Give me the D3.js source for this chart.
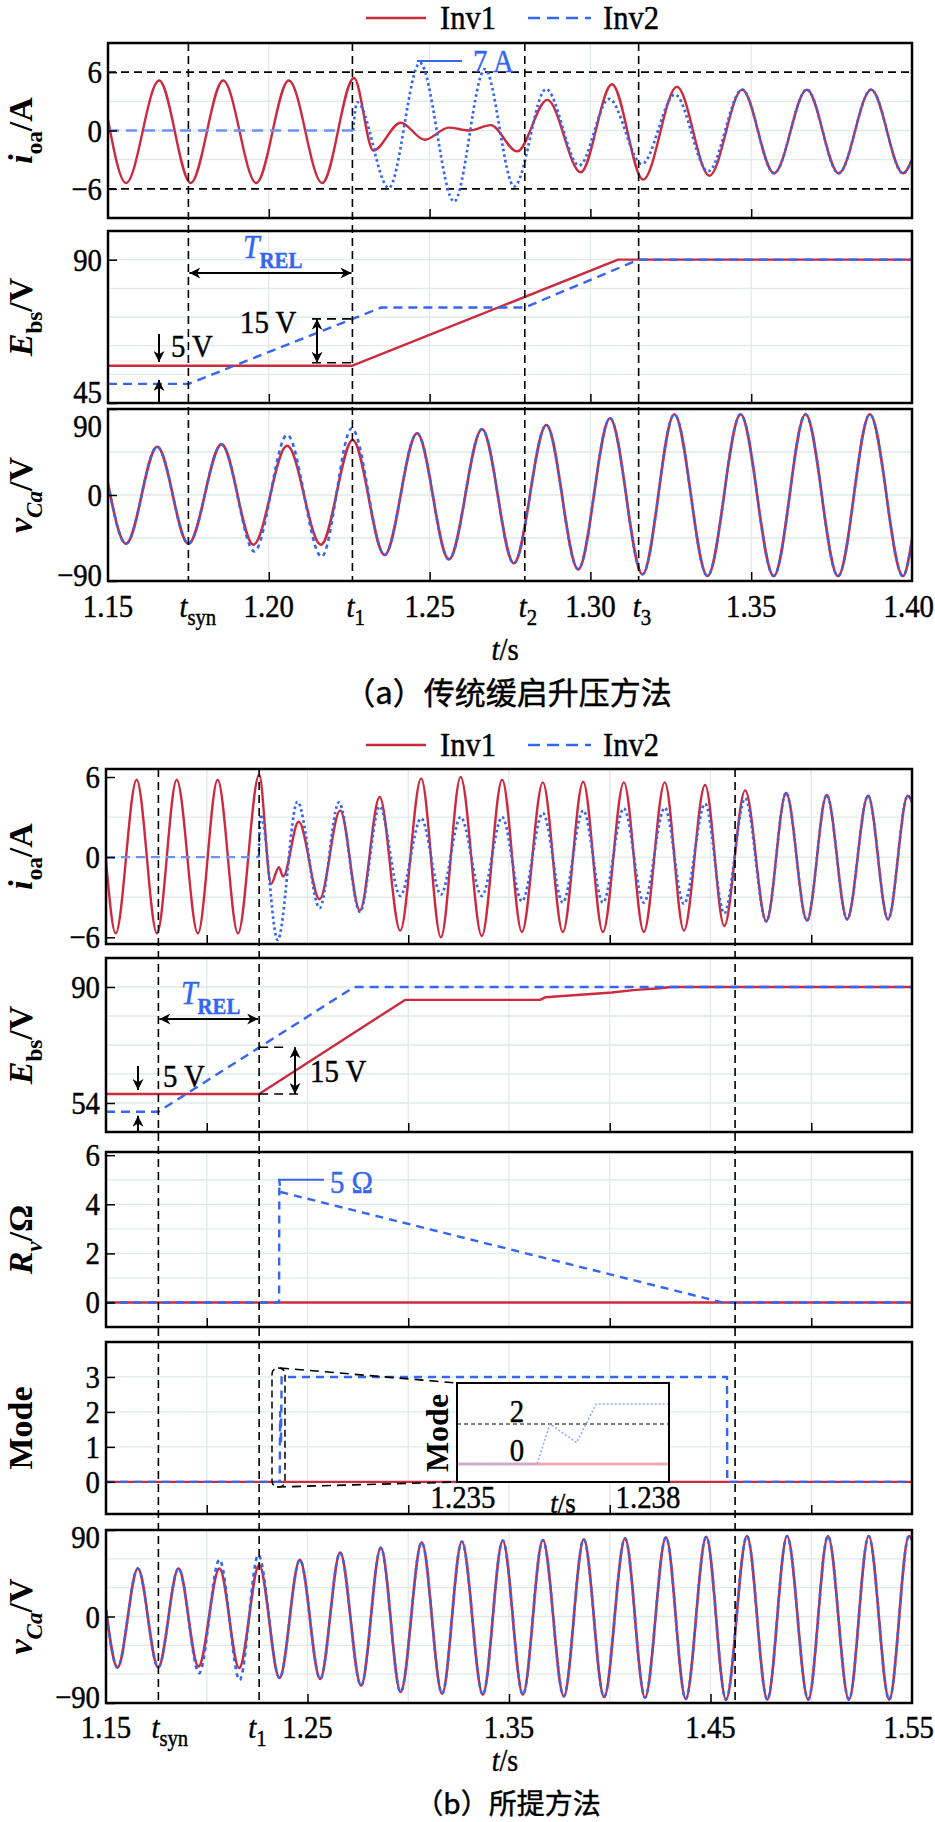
<!DOCTYPE html>
<html>
<head>
<meta charset="utf-8">
<script src="https://cdn.jsdelivr.net/npm/d3@7"></script>
<style>
  body { margin: 0; background: #fff; }
  svg { display: block; }
</style>
</head>
<body>
<svg id="chart" width="935" height="1822"></svg>
<script>
// ---------- data: [t (s), value] at peaks / troughs / corners ----------

// (a) conventional soft start
const ioaA_inv1 = [[1.150,1.1],[1.1556,-5.4],[1.1659,5.15],[1.1757,-5.4],[1.1858,5.15],[1.1961,-5.4],[1.2062,5.15],
  [1.2166,-5.4],[1.2265,5.4],[1.2325,-2.05],[1.2410,0.8],[1.2485,-0.95],[1.2560,0.3],[1.2623,0.0],[1.2690,0.55],
  [1.2772,-2.15],[1.2866,3.15],[1.2970,-4.3],[1.3067,4.75],[1.3164,-5.05],[1.3269,4.5],[1.3370,-4.65],[1.3472,4.2],
  [1.3571,-4.4],[1.3673,4.2],[1.3772,-4.4],[1.3873,4.2],[1.3972,-4.4],[1.400,-3.0]];
const ioaA_inv2 = [[1.150,0],[1.2262,0],[1.2275,2.9],[1.2373,-5.9],[1.2470,6.95],[1.2576,-7.3],[1.2672,6.3],
  [1.2763,-5.75],[1.2862,4.25],[1.2965,-3.6],[1.3058,3.25],[1.3160,-3.45],[1.3263,3.7],[1.3366,-4.2],[1.3472,4.2],
  [1.3571,-4.4],[1.3673,4.2],[1.3772,-4.4],[1.3873,4.2],[1.3972,-4.4],[1.400,-3.0]];
const ebsA_inv1 = [[1.150,56.7],[1.226,56.7],[1.3086,90],[1.400,90]];
const ebsA_inv2 = [[1.150,51],[1.175,51],[1.235,75],[1.2796,75],[1.315,90],[1.400,90]];
const vcaA_inv1 = [[1.150,12],[1.1556,-51],[1.1653,50.5],[1.1750,-51],[1.1853,53],[1.1952,-52],[1.2057,51.6],
  [1.2162,-52],[1.2261,57.6],[1.2360,-62.8],[1.2461,64.6],[1.2560,-67.3],[1.2663,68.8],[1.2762,-71.5],[1.2863,73.3],
  [1.2962,-77.8],[1.3061,80.3],[1.3162,-83],[1.3261,84.5],[1.3364,-84.8],[1.3467,84.5],[1.3570,-84.8],[1.3669,84.5],
  [1.3770,-84.8],[1.3869,84.5],[1.3972,-84.8],[1.400,-47]];
const vcaA_inv2 = [[1.150,12],[1.1556,-51],[1.1653,50.5],[1.1750,-51],[1.1853,53],[1.1955,-59],[1.2057,62.8],
  [1.2164,-64.6],[1.2258,69.8],[1.2360,-62.8],[1.2461,64.6],[1.2560,-67.3],[1.2663,68.8],[1.2762,-71.5],[1.2863,73.3],
  [1.2962,-77.8],[1.3061,80.3],[1.3162,-83],[1.3261,84.5],[1.3364,-84.8],[1.3467,84.5],[1.3570,-84.8],[1.3669,84.5],
  [1.3770,-84.8],[1.3869,84.5],[1.3972,-84.8],[1.400,-47]];
const eventsA = [1.175, 1.226, 1.2796, 1.315];
const eventNamesA = ["syn", "1", "2", "3"];
const xTicksA = [1.20, 1.25, 1.30, 1.35];
const xLabelValuesA = [1.15, 1.20, 1.25, 1.30, 1.35, 1.40];
const xLabelsA = ["1.15", "1.20", "1.25", "1.30", "1.35", "1.40"];

// (b) proposed method
const ioaB_inv1 = [[1.150,-0.25],[1.1548,-5.7],[1.1652,5.8],[1.1753,-5.7],[1.1851,5.8],[1.1956,-5.7],[1.2054,5.8],
  [1.2155,-5.7],[1.2260,6.17],[1.2319,-2.0],[1.2358,-0.75],[1.2379,-1.45],[1.2456,2.65],[1.2560,-3.15],[1.2662,3.5],
  [1.2760,-4.0],[1.2858,4.5],[1.2960,-5.5],[1.3064,5.9],[1.3162,-6.0],[1.3260,6.0],[1.3365,-5.9],[1.3466,5.8],
  [1.3564,-5.6],[1.3668,5.6],[1.3767,-5.6],[1.3868,5.65],[1.3966,-5.6],[1.4070,5.6],[1.4169,-5.6],[1.4273,5.6],
  [1.4368,-5.5],[1.4473,5.4],[1.4568,-5.15],[1.4672,5.0],[1.4777,-4.8],[1.4875,4.8],[1.4979,-4.75],[1.5077,4.65],
  [1.5178,-4.65],[1.5282,4.6],[1.5381,-4.65],[1.5479,4.6],[1.550,4.15]];
const ioaB_inv2 = [[1.150,0],[1.2258,0],[1.2268,3.2],[1.2352,-6.2],[1.2450,4.15],[1.2560,-3.8],[1.2656,4.1],
  [1.2760,-4.1],[1.2858,3.8],[1.2960,-2.9],[1.3064,2.9],[1.3162,-2.8],[1.3260,3.0],[1.3365,-2.9],[1.3466,3.0],
  [1.3564,-3.3],[1.3668,3.3],[1.3767,-3.4],[1.3868,3.5],[1.3966,-3.4],[1.4070,3.65],[1.4169,-3.4],[1.4273,3.7],
  [1.4368,-3.5],[1.4473,4.0],[1.4568,-4.2],[1.4672,4.4],[1.4777,-4.8],[1.4875,4.8],[1.4979,-4.75],[1.5077,4.65],
  [1.5178,-4.65],[1.5282,4.6],[1.5381,-4.65],[1.5479,4.6],[1.550,4.15]];
const ebsB_inv1 = [[1.150,56.8],[1.226,56.8],[1.2984,86],[1.3654,86],[1.3680,86.8],[1.4011,88.3],[1.4130,89.1],
  [1.4250,89.6],[1.4303,90],[1.550,90]];
const ebsB_inv2 = [[1.150,51.3],[1.176,51.3],[1.2731,90],[1.550,90]];
const rvB_inv1 = [[1.150,0],[1.550,0]];
const rvB_inv2 = [[1.150,0],[1.2359,0],[1.2360,5],[1.2366,4.5],[1.4560,0],[1.550,0]];
const modeB_inv1 = [[1.150,0],[1.550,0]];
const modeB_inv2 = [[1.150,0],[1.23620,0],[1.23641,2],[1.23684,1.07],[1.23716,3],[1.4582,3],[1.4583,0],[1.550,0]];
const vcaB_inv1 = [[1.150,7],[1.1557,-53],[1.1658,50],[1.1759,-53],[1.1860,50],[1.1959,-52],[1.2063,50],
  [1.2161,-53.6],[1.2260,53.6],[1.2361,-64],[1.2462,59],[1.2563,-65],[1.2662,66.5],[1.2766,-72],[1.2864,71.6],
  [1.2962,-78.6],[1.3067,77.2],[1.3168,-80.3],[1.3266,78],[1.3370,-81.3],[1.3469,79],[1.3569,-81.3],[1.3668,79.6],
  [1.3772,-83],[1.3871,80.3],[1.3972,-83.8],[1.4076,81.3],[1.4175,-84.5],[1.4279,82.4],[1.4377,-85.8],[1.4479,83],
  [1.4577,-86.5],[1.4681,83.8],[1.4782,-86.5],[1.4880,83.8],[1.4985,-86.5],[1.5083,83.8],[1.5187,-86.5],[1.5285,83.8],
  [1.5387,-86.5],[1.5485,83.8],[1.550,80]];
const vcaB_inv2 = [[1.150,7],[1.1557,-53],[1.1658,50],[1.1759,-53],[1.1860,50],[1.1962,-59],[1.2063,59],
  [1.2163,-66],[1.2256,64],[1.2361,-64],[1.2462,59],[1.2563,-65],[1.2662,66.5],[1.2766,-72],[1.2864,71.6],
  [1.2962,-78.6],[1.3067,77.2],[1.3168,-80.3],[1.3266,78],[1.3370,-81.3],[1.3469,79],[1.3569,-81.3],[1.3668,79.6],
  [1.3772,-83],[1.3871,80.3],[1.3972,-83.8],[1.4076,81.3],[1.4175,-84.5],[1.4279,82.4],[1.4377,-85.8],[1.4479,83],
  [1.4577,-86.5],[1.4681,83.8],[1.4782,-86.5],[1.4880,83.8],[1.4985,-86.5],[1.5083,83.8],[1.5187,-86.5],[1.5285,83.8],
  [1.5387,-86.5],[1.5485,83.8],[1.550,80]];
const eventsB = [1.176, 1.226, 1.4622];
const xTicksB = [1.20, 1.30, 1.40, 1.50];
const xTicksB5 = [1.25, 1.35, 1.45];
const xLabelValuesB = [1.15, 1.25, 1.35, 1.45, 1.55];
const xLabelsB = ["1.15", "1.25", "1.35", "1.45", "1.55"];
const insetTicks = [1.235, 1.238];

// ---------- drawing ----------
const SERIF = "Liberation Serif";
const CJK = "Noto Sans CJK SC";
const RED = "#cc2a3e", BLUE = "#3466f2";
const svg = d3.select("#chart");

const defs = svg.append("defs");
defs.append("marker").attr("id", "arr")
    .attr("viewBox", "0 0 10 10").attr("refX", 10).attr("refY", 5)
    .attr("markerWidth", 13).attr("markerHeight", 11).attr("markerUnits", "userSpaceOnUse")
    .attr("orient", "auto-start-reverse")
  .append("path").attr("d", "M0,0 L10,5 L0,10 L3,5 Z").attr("fill", "#000");

let clipId = 0;

// rich text: parts are strings or {t, i, sub}; sx squeezes glyphs to the narrow look of the figure
function rich(parent, x, y, parts, o) {
  o = o || {};
  const size = o.size || 30;
  const sx = o.sx || 0.9;
  const color = o.color || "#000";
  const t = parent.append("text")
      .attr("transform", "translate(" + x + "," + y + ")" + (o.rotate ? " rotate(" + o.rotate + ")" : "") +
            " scale(" + sx + ",1)")
      .attr("text-anchor", o.anchor || "start")
      .attr("font-family", o.family || SERIF)
      .attr("font-size", size)
      .attr("font-weight", o.bold ? "bold" : null)
      .attr("fill", color)
      .attr("stroke", color).attr("stroke-width", o.bold ? 0 : 0.45);
  let shift = 0;
  parts.forEach(function(p) {
    if (typeof p === "string") p = {t: p};
    const s = t.append("tspan").text(p.t);
    const target = p.sub ? size * (p.drop || 0.28) : 0;
    if (p.sub) s.attr("font-size", size * (p.scale || 0.68));
    if (p.i) s.attr("font-style", "italic");
    if (p.b) s.attr("font-weight", "bold");
    if (target !== shift) { s.attr("dy", target - shift); shift = target; }
  });
  return t;
}

function panel(cfg) {
  const x = cfg.x;
  const [x0, x1] = x.range();
  const y = d3.scaleLinear().domain(cfg.domain).range([cfg.bottom, cfg.top]);
  const g = svg.append("g");
  const id = "clip" + (clipId++);
  defs.append("clipPath").attr("id", id).append("rect")
      .attr("x", x0).attr("y", cfg.top).attr("width", x1 - x0).attr("height", cfg.bottom - cfg.top);

  // faint grid
  g.append("g").selectAll("line").data(cfg.grid).join("line")
      .attr("x1", x0).attr("x2", x1).attr("y1", d => y(d)).attr("y2", d => y(d))
      .attr("stroke", "#e2e9e9").attr("stroke-width", 1.3);
  g.append("g").selectAll("line").data(cfg.xGrid).join("line")
      .attr("x1", d => x(d)).attr("x2", d => x(d)).attr("y1", cfg.top).attr("y2", cfg.bottom)
      .attr("stroke", "#e2e9e9").attr("stroke-width", 1.3);

  const plot = g.append("g").attr("clip-path", "url(#" + id + ")");

  // inward ticks
  const ax = g.append("g").attr("transform", "translate(" + x0 + ",0)")
      .call(d3.axisLeft(y).tickValues(cfg.ticks).tickSize(-9).tickFormat(""));
  ax.select(".domain").remove();
  ax.selectAll("line").attr("stroke", "#000").attr("stroke-width", 1.5);
  cfg.ticks.forEach((v, i) => rich(g, x0 - 6, y(v) + 11 + (cfg.labelDy ? cfg.labelDy[i] : 0),
    [cfg.labels[i]], {size: 32, anchor: "end"}));

  const bx = g.append("g").attr("transform", "translate(0," + cfg.bottom + ")")
      .call(d3.axisBottom(x).tickValues(cfg.xTicks).tickSize(-9).tickFormat(""));
  bx.select(".domain").remove();
  bx.selectAll("line").attr("stroke", "#000").attr("stroke-width", 1.5);

  g.append("rect").attr("x", x0).attr("y", cfg.top)
      .attr("width", x1 - x0).attr("height", cfg.bottom - cfg.top)
      .attr("fill", "none").attr("stroke", "#000").attr("stroke-width", 2.5);

  rich(g, 32, (cfg.top + cfg.bottom) / 2, cfg.title,
       {size: 34, bold: true, anchor: "middle", rotate: -90, sx: 1});

  return {g, y, plot};
}

function curve(p, x, data, color, dash, width, smooth) {
  const line = d3.line().x(d => x(d[0])).y(d => p.y(d[1]))
      .curve(smooth ? d3.curveMonotoneX : d3.curveLinear);
  p.plot.append("path").datum(data).attr("d", line)
      .attr("fill", "none").attr("stroke", color).attr("stroke-width", width || 2.4)
      .attr("stroke-dasharray", dash || null).attr("stroke-linejoin", "round");
}

function events(x, list, top, bottom) {
  svg.append("g").selectAll("line").data(list).join("line")
      .attr("x1", d => x(d)).attr("x2", d => x(d)).attr("y1", top).attr("y2", bottom)
      .attr("stroke", "#000").attr("stroke-width", 1.6).attr("stroke-dasharray", "8,5");
}

function legend(y) {
  const g = svg.append("g");
  g.append("line").attr("x1", 366).attr("x2", 426).attr("y1", y).attr("y2", y)
      .attr("stroke", RED).attr("stroke-width", 2.5);
  rich(g, 440, y + 11, ["Inv1"], {size: 34});
  g.append("line").attr("x1", 528).attr("x2", 591).attr("y1", y).attr("y2", y)
      .attr("stroke", BLUE).attr("stroke-width", 2.5).attr("stroke-dasharray", "12,7");
  rich(g, 603, y + 11, ["Inv2"], {size: 34});
}

function arrow(g, x1, y1, x2, y2, both) {
  g.append("line").attr("x1", x1).attr("y1", y1).attr("x2", x2).attr("y2", y2)
      .attr("stroke", "#000").attr("stroke-width", 2)
      .attr("marker-end", "url(#arr)").attr("marker-start", both ? "url(#arr)" : null);
}

function dashSeg(g, x1, y1, x2, y2) {
  g.append("line").attr("x1", x1).attr("y1", y1).attr("x2", x2).attr("y2", y2)
      .attr("stroke", "#000").attr("stroke-width", 1.6).attr("stroke-dasharray", "9,6");
}

const iTitle = [{t: "i", i: true}, {t: "oa", sub: true}, "/A"];
const eTitle = [{t: "E", i: true}, {t: "bs", sub: true}, "/V"];
const vTitle = [{t: "v", i: true}, {t: "Ca", sub: true, i: true}, "/V"];
const tRel = [{t: "T", i: true}, {t: "REL", sub: true, scale: 0.7, drop: 0.3, b: true}];

// ===== (a) =====
const xA = d3.scaleLinear().domain([1.15, 1.40]).range([108, 912]);
legend(18);
const xGridA = [1.20, 1.25, 1.30, 1.35];

const a1 = panel({x: xA, top: 43, bottom: 218, domain: [-9, 9], grid: [-3, 0, 3], xGrid: xGridA,
  ticks: [-6, 0, 6], labels: ["\u22126", "0", "6"], xTicks: xTicksA, title: iTitle});
const a2 = panel({x: xA, top: 231, bottom: 403, domain: [45, 99], grid: [54, 63, 72, 81, 90], xGrid: xGridA,
  ticks: [45, 90], labels: ["45", "90"], labelDy: [-11, 0], xTicks: xTicksA, title: eTitle});
const a3 = panel({x: xA, top: 409, bottom: 581, domain: [-90, 90], grid: [-45, 0, 45], xGrid: xGridA,
  ticks: [-90, 0, 90], labels: ["\u221290", "0", "90"], labelDy: [-6, 0, 17], xTicks: xTicksA, title: vTitle});

events(xA, eventsA, 43, 581);

// ±6 A reference lines
a1.plot.append("g").selectAll("line").data([6, -6]).join("line")
    .attr("x1", 108).attr("x2", 912).attr("y1", d => a1.y(d)).attr("y2", d => a1.y(d))
    .attr("stroke", "#000").attr("stroke-width", 1.6).attr("stroke-dasharray", "8,5");

curve(a1, xA, ioaA_inv1, RED, null, 2.4, true);
curve(a1, xA, ioaA_inv2.filter(d => d[0] <= 1.2262), "#6f93f5", "11,7", 2.4, false);
curve(a1, xA, ioaA_inv2.filter(d => d[0] >= 1.2262), BLUE, "2.6,3", 2.7, true);

curve(a2, xA, ebsA_inv1, RED, null, 2.4, false);
curve(a2, xA, ebsA_inv2, BLUE, "9,6", 2.4, false);

curve(a3, xA, vcaA_inv1, RED, null, 2.6, true);
curve(a3, xA, vcaA_inv2, BLUE, "4,4", 2.6, true);

// annotations (a)
a1.g.append("line").attr("x1", 417).attr("x2", 462).attr("y1", 61).attr("y2", 61)
    .attr("stroke", BLUE).attr("stroke-width", 2);
rich(a1.g, 473, 72, ["7 A"], {size: 32, color: BLUE});

rich(a2.g, 243, 258, tRel, {size: 33, color: BLUE});
arrow(a2.g, xA(1.175) + 1, 273, xA(1.226) - 1, 273, true);
arrow(a2.g, 159, 334, 159, 362);
arrow(a2.g, 159, 403, 159, 380);
rich(a2.g, 171, 357, ["5 V"], {size: 32});
dashSeg(a2.g, 312, a2.y(71.4), xA(1.226), a2.y(71.4));
dashSeg(a2.g, 312, a2.y(56.7) - 3, xA(1.226), a2.y(56.7) - 3);
arrow(a2.g, 317, a2.y(71.4), 317, a2.y(56.7) - 3, true);
rich(a2.g, 240, 333, ["15 V"], {size: 32});

// x labels (a)
const xlabA = svg.append("g");
xLabelValuesA.forEach((v, i) => rich(xlabA, i === xLabelValuesA.length - 1 ? 934 : xA(v), 617, [xLabelsA[i]],
  {size: 32, anchor: i === xLabelValuesA.length - 1 ? "end" : "middle"}));
eventsA.forEach((v, i) => rich(xlabA, xA(v) - (i === 0 ? 9 : 6), 617,
  [{t: "t", i: true}, {t: eventNamesA[i], sub: true, scale: 0.72, drop: 0.25}], {size: 32}));
rich(xlabA, 505, 660, [{t: "t", i: true}, "/s"], {size: 32, anchor: "middle"});
rich(xlabA, 508, 704, ["（a）传统缓启升压方法"], {size: 31, anchor: "middle", family: CJK, sx: 1});

// ===== (b) =====
const xB = d3.scaleLinear().domain([1.15, 1.55]).range([106, 912]);
legend(745);
const xGridB = [1.20, 1.25, 1.30, 1.35, 1.40, 1.45, 1.50];

const b1 = panel({x: xB, top: 769, bottom: 944, domain: [-6.5, 6.6], grid: [-3, 0, 3], xGrid: xGridB,
  ticks: [-6, 0, 6], labels: ["\u22126", "0", "6"], xTicks: xTicksB, title: iTitle});
const b2 = panel({x: xB, top: 958, bottom: 1132, domain: [45, 99], grid: [54, 63, 72, 81, 90], xGrid: xGridB,
  ticks: [54, 90], labels: ["54", "90"], xTicks: xTicksB, title: eTitle});
const b3 = panel({x: xB, top: 1152, bottom: 1327, domain: [-1, 6.13], grid: [1, 2, 3, 4, 5], xGrid: xGridB,
  ticks: [0, 2, 4, 6], labels: ["0", "2", "4", "6"], xTicks: xTicksB,
  title: [{t: "R", i: true}, {t: "v", sub: true, i: true}, "/\u03a9"]});
const b4 = panel({x: xB, top: 1342, bottom: 1514, domain: [-0.92, 4], grid: [1, 2, 3], xGrid: xGridB,
  ticks: [0, 1, 2, 3], labels: ["0", "1", "2", "3"], xTicks: xTicksB, title: ["Mode"]});
const b5 = panel({x: xB, top: 1530, bottom: 1703, domain: [-90, 90], grid: [-60, -30, 0, 30, 60], xGrid: xGridB,
  ticks: [-90, 0, 90], labels: ["\u221290", "0", "90"], labelDy: [-6, 0, 7], xTicks: xTicksB5, title: vTitle});

events(xB, eventsB, 769, 1703);

curve(b1, xB, ioaB_inv1, RED, null, 2.4, true);
curve(b1, xB, ioaB_inv2.filter(d => d[0] <= 1.2258), "#6f93f5", "9,6", 2.2, false);
curve(b1, xB, ioaB_inv2.filter(d => d[0] >= 1.2258), BLUE, "2.6,3", 2.7, true);

curve(b2, xB, ebsB_inv1, RED, null, 2.4, false);
curve(b2, xB, ebsB_inv2, BLUE, "9,6", 2.4, false);

curve(b3, xB, rvB_inv1, RED, null, 2.4, false);
curve(b3, xB, rvB_inv2, BLUE, "8,6", 2.4, false);

curve(b4, xB, modeB_inv1, RED, null, 2.4, false);
curve(b4, xB, modeB_inv2, BLUE, "8,6", 2.4, false);

curve(b5, xB, vcaB_inv1, RED, null, 2.6, true);
curve(b5, xB, vcaB_inv2, BLUE, "4,4", 2.6, true);

// annotations (b)
rich(b2.g, 181, 1004, tRel, {size: 33, color: BLUE});
arrow(b2.g, xB(1.176) + 1, 1019, xB(1.226) - 1, 1019, true);
arrow(b2.g, 138, 1066, 138, b2.y(56.8) - 4);
arrow(b2.g, 138, 1132, 138, b2.y(51.3) + 4);
rich(b2.g, 163, 1087, ["5 V"], {size: 32});
dashSeg(b2.g, xB(1.226), b2.y(71.3), 284, b2.y(71.3));
dashSeg(b2.g, xB(1.226), b2.y(56.8), 304, b2.y(56.8));
arrow(b2.g, 295, b2.y(71.3), 295, b2.y(56.8), true);
rich(b2.g, 310, 1082, ["15 V"], {size: 32});

b3.g.append("line").attr("x1", xB(1.236)).attr("x2", 324).attr("y1", b3.y(5)).attr("y2", b3.y(5))
    .attr("stroke", BLUE).attr("stroke-width", 2);
rich(b3.g, 330, 1193, ["5 \u03a9"], {size: 32, color: BLUE});

// inset zoom of the mode transition
const zg = b4.g.append("g");
zg.append("rect").attr("x", 272).attr("y", 1368).attr("width", 13).attr("height", 119).attr("rx", 6)
    .attr("fill", "none").attr("stroke", "#000").attr("stroke-width", 1.5).attr("stroke-dasharray", "7,4");
dashSeg(zg, 280, 1368, 457, 1383);
dashSeg(zg, 277, 1487, 457, 1482);
const xIn = d3.scaleLinear().domain([1.235, 1.238]).range([463, 648]);
const yIn = d3.scaleLinear().domain([-0.9, 4.05]).range([1482, 1383]);
defs.append("clipPath").attr("id", "clipInset").append("rect")
    .attr("x", 457).attr("y", 1383).attr("width", 212).attr("height", 99);
zg.append("rect").attr("x", 457).attr("y", 1383).attr("width", 212).attr("height", 99)
    .attr("fill", "#fff");
const inPlot = zg.append("g").attr("clip-path", "url(#clipInset)");
inPlot.selectAll("line.lvl").data([0, 2]).join("line")
    .attr("x1", 457).attr("x2", 669).attr("y1", d => yIn(d)).attr("y2", d => yIn(d))
    .attr("stroke", "#000").attr("stroke-width", 1).attr("stroke-dasharray", "4,3");
const inLine = d3.line().x(d => xIn(d[0])).y(d => yIn(d[1]));
inPlot.append("path").datum(modeB_inv1).attr("d", inLine)
    .attr("fill", "none").attr("stroke", "#f1a9b8").attr("stroke-width", 3);
inPlot.append("path").datum(modeB_inv2).attr("d", inLine)
    .attr("fill", "none").attr("stroke", "#8fabfb").attr("stroke-width", 1.6).attr("stroke-dasharray", "2,2");
rich(zg, 517, 1422, ["2"], {size: 32, anchor: "middle"});
rich(zg, 517, 1461, ["0"], {size: 32, anchor: "middle"});
zg.append("rect").attr("x", 457).attr("y", 1383).attr("width", 212).attr("height", 99)
    .attr("fill", "none").attr("stroke", "#000").attr("stroke-width", 2);
rich(zg, 448, 1433, ["Mode"], {size: 32, bold: true, anchor: "middle", rotate: -90, sx: 1});
insetTicks.forEach(v => rich(zg, xIn(v), 1508, [d3.format(".3f")(v)], {size: 32, anchor: "middle"}));
rich(zg, 563, 1513, [{t: "t", i: true}, "/s"], {size: 30, anchor: "middle"});

// x labels (b)
const xlabB = svg.append("g");
xLabelValuesB.forEach((v, i) => rich(xlabB, i === xLabelValuesB.length - 1 ? 934 : xB(v), 1738, [xLabelsB[i]],
  {size: 32, anchor: i === xLabelValuesB.length - 1 ? "end" : "middle"}));
rich(xlabB, xB(1.176) - 7, 1738, [{t: "t", i: true}, {t: "syn", sub: true, scale: 0.72, drop: 0.25}], {size: 32});
rich(xlabB, xB(1.226) - 11, 1738, [{t: "t", i: true}, {t: "1", sub: true, scale: 0.72, drop: 0.25}], {size: 32});
rich(xlabB, 505, 1771, [{t: "t", i: true}, "/s"], {size: 31, anchor: "middle"});
rich(xlabB, 508, 1814, ["（b）所提方法"], {size: 28, anchor: "middle", family: CJK, sx: 1});
</script>
</body>
</html>
